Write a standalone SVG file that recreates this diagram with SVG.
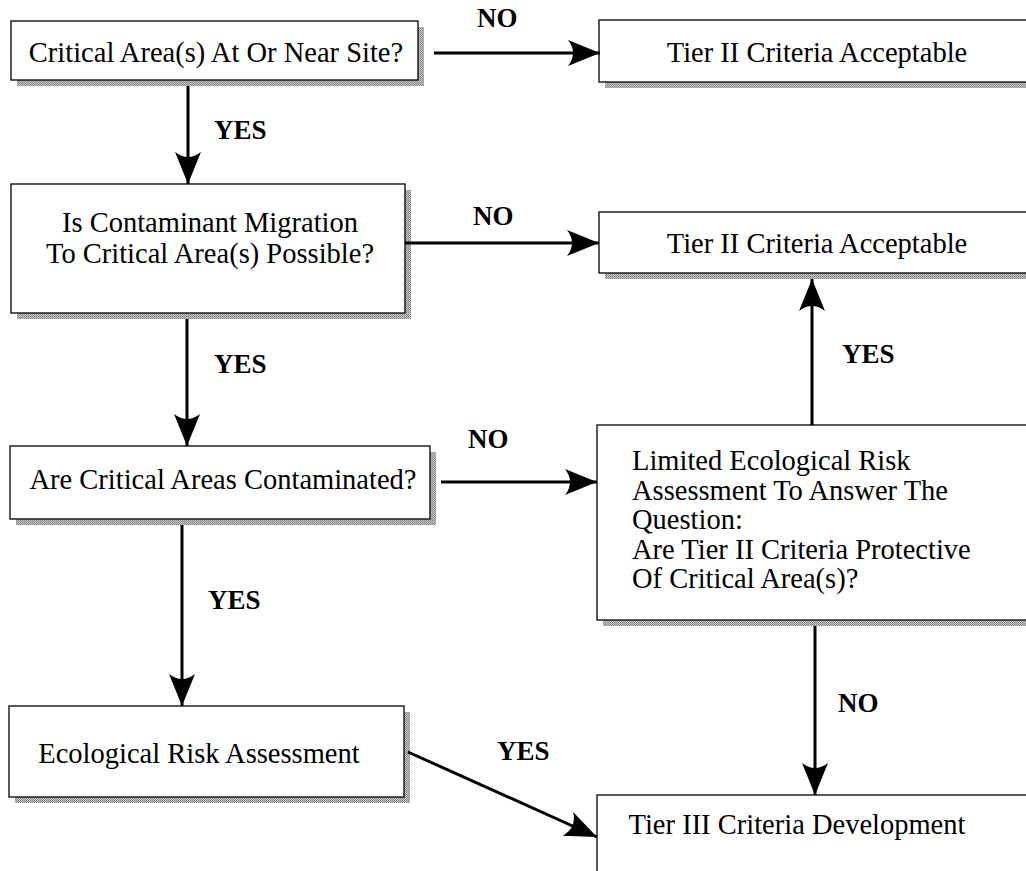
<svg xmlns="http://www.w3.org/2000/svg" width="1026" height="871" viewBox="0 0 1026 871">
<style>
.box{fill:#fff;stroke:#000;stroke-width:1.3}
.sh{fill:url(#hatch)}
.t{font-family:"Liberation Serif","Times New Roman",serif;font-size:28.5px;fill:#000}
.c{text-anchor:middle}
.lbl{font-family:"Liberation Serif","Times New Roman",serif;font-size:27px;font-weight:bold;fill:#000}
.ln{stroke:#000;stroke-width:3;fill:none;marker-end:url(#ah)}
</style>
<defs>
<pattern id="hatch" width="2" height="2" patternUnits="userSpaceOnUse">
<rect width="2" height="2" fill="#c8c8c8"/>
<rect width="1" height="1" fill="#808080"/>
<rect x="1" y="1" width="1" height="1" fill="#909090"/>
</pattern>
<marker id="ah" markerUnits="userSpaceOnUse" markerWidth="34" markerHeight="28" refX="32" refY="13" orient="auto" viewBox="0 0 34 28">
<path d="M0,0 L32,13 L0,26 Q10,13 0,0 Z" fill="#000"/>
</marker>
</defs>
<rect width="1026" height="871" fill="#fff"/>

<g id="n1">
<rect class="sh" x="17" y="27" width="407" height="59"/>
<rect class="box" x="11" y="21" width="407" height="59"/>
<text class="t c" x="216" y="62">Critical Area(s) At Or Near Site?</text>
</g>
<g id="n2">
<rect class="sh" x="605" y="26" width="440" height="62"/>
<rect class="box" x="599" y="20" width="440" height="62"/>
<text class="t c" x="817" y="62">Tier II Criteria Acceptable</text>
</g>
<g id="n3">
<rect class="sh" x="17" y="190" width="394" height="129"/>
<rect class="box" x="11" y="184" width="394" height="129"/>
<text class="t c" x="210" y="232">Is Contaminant Migration</text>
<text class="t c" x="210" y="263">To Critical Area(s) Possible?</text>
</g>
<g id="n4">
<rect class="sh" x="605" y="218" width="440" height="61"/>
<rect class="box" x="599" y="212" width="440" height="61"/>
<text class="t c" x="817" y="253">Tier II Criteria Acceptable</text>
</g>
<g id="n5">
<rect class="sh" x="16" y="452" width="420" height="73"/>
<rect class="box" x="10" y="446" width="420" height="73"/>
<text class="t c" x="223" y="489">Are Critical Areas Contaminated?</text>
</g>
<g id="n6">
<rect class="sh" x="603" y="431" width="440" height="195"/>
<rect class="box" x="597" y="425" width="440" height="195"/>
<text class="t" x="632" y="470">Limited Ecological Risk</text>
<text class="t" x="632" y="499.5">Assessment To Answer The</text>
<text class="t" x="632" y="529">Question:</text>
<text class="t" x="632" y="558.5">Are Tier II Criteria Protective</text>
<text class="t" x="632" y="588">Of Critical Area(s)?</text>
</g>
<g id="n7">
<rect class="sh" x="15" y="712" width="395" height="91"/>
<rect class="box" x="9" y="706" width="395" height="91"/>
<text class="t c" x="199" y="763">Ecological Risk Assessment</text>
</g>
<g id="n8">
<rect class="sh" x="603" y="801" width="440" height="100"/>
<rect class="box" x="597" y="795" width="440" height="100"/>
<text class="t c" x="797" y="834">Tier III Criteria Development</text>
</g>

<g id="connectors">
<line class="ln" x1="434" y1="53" x2="600" y2="53"/>
<line class="ln" x1="188" y1="86" x2="188" y2="184"/>
<line class="ln" x1="405" y1="243" x2="599" y2="243"/>
<line class="ln" x1="187" y1="319" x2="187" y2="446"/>
<line class="ln" x1="441" y1="482" x2="597" y2="482"/>
<line class="ln" x1="182" y1="525" x2="182" y2="706"/>
<line class="ln" x1="812" y1="425" x2="812" y2="279"/>
<line class="ln" x1="815" y1="626" x2="815" y2="795"/>
<line class="ln" x1="408" y1="752" x2="597" y2="837"/>
</g>

<g id="labels">
<text class="lbl" x="477" y="27">NO</text>
<text class="lbl" x="214" y="139">YES</text>
<text class="lbl" x="473" y="225">NO</text>
<text class="lbl" x="214" y="373">YES</text>
<text class="lbl" x="468" y="448">NO</text>
<text class="lbl" x="208" y="609">YES</text>
<text class="lbl" x="842" y="363">YES</text>
<text class="lbl" x="838" y="712">NO</text>
<text class="lbl" x="497" y="760">YES</text>
</g>
</svg>
